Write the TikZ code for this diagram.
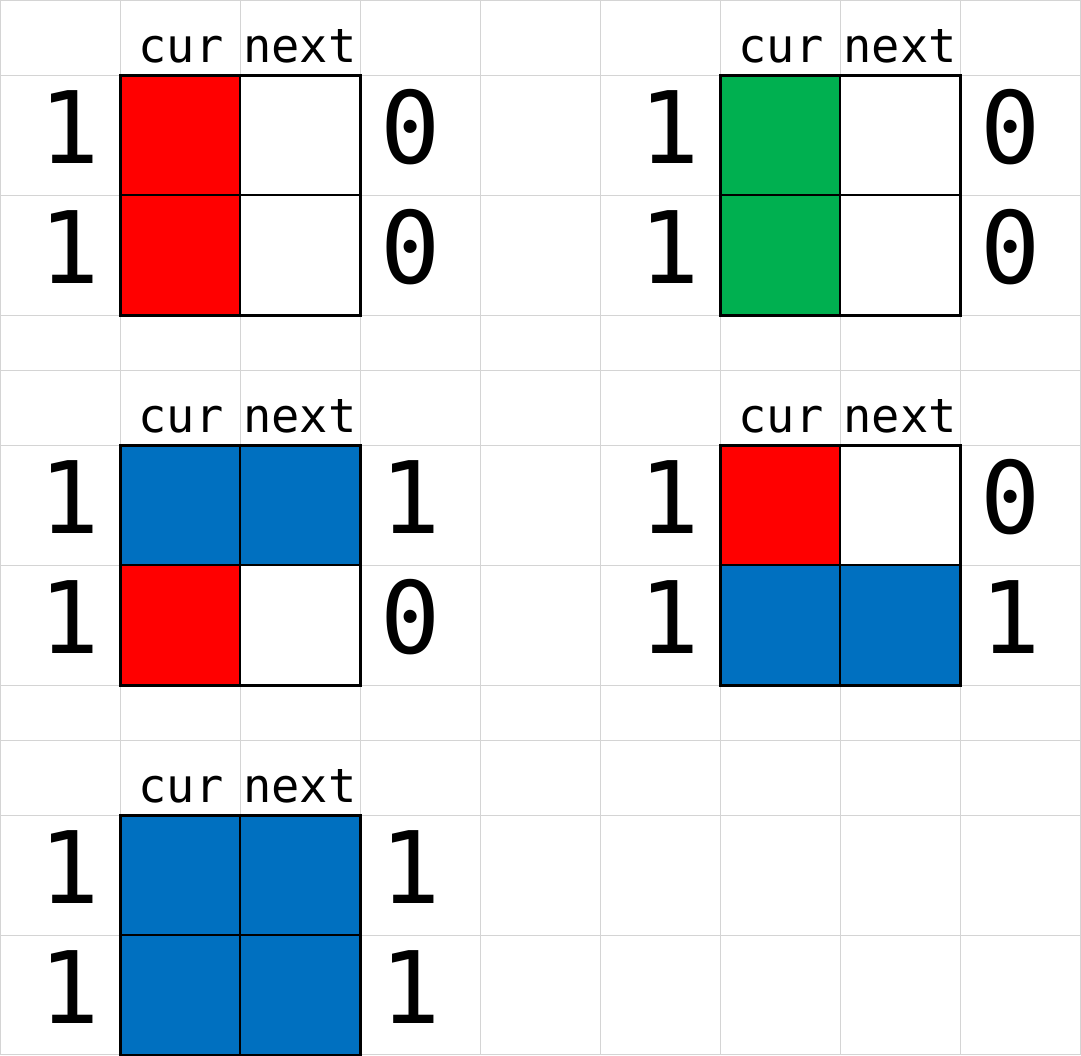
\documentclass[tikz,border=0pt]{standalone}
\usepackage{fontspec}
\setmonofont{DejaVu Sans Mono}
\usetikzlibrary{positioning}
\definecolor{cellred}{HTML}{FF0000}
\definecolor{cellgreen}{HTML}{00B050}
\definecolor{cellblue}{HTML}{0070C0}
\definecolor{gridgray}{HTML}{D4D4D4}

% one cur/next table: name, corner x, corner y, four cell colours, right labels
\newcommand{\statebox}[9]{%
	\begin{scope}[shift={(#2,#3)}]
		\fill[#4] (0,0) rectangle (120,120);
		\fill[#5] (120,0) rectangle (240,120);
		\fill[#6] (0,120) rectangle (120,240);
		\fill[#7] (120,120) rectangle (240,240);
		\draw[innerline] (120,0) -- (120,240);
		\draw[innerline] (0,120) -- (240,120);
		\draw[outerline] (0,0) rectangle (240,240);
		\node[headtext] (#1-cur) at (61,-13) {cur};
		\node[headtext] (#1-next) at (180,-13) {next};
		\node[bigdigit] (#1-l1) at (-50,88) {1};
		\node[bigdigit] (#1-l2) at (-50,208) {1};
		\node[bigdigit] (#1-r1) at (291,88) {#8};
		\node[bigdigit] (#1-r2) at (291,208) {#9};
	\end{scope}}

\begin{document}
\begin{tikzpicture}
		[x=1pt, y=-1pt,
		gridline/.style={draw=gridgray, line width=1pt},
		innerline/.style={draw=black, line width=1.5pt},
		outerline/.style={draw=black, line width=3pt},
		bigdigit/.style={anchor=base, inner sep=0pt, font=\ttfamily\fontsize{100}{110}\selectfont},
		headtext/.style={anchor=base, inner sep=0pt, font=\ttfamily\fontsize{47}{55}\selectfont}]
		\useasboundingbox (0,0) rectangle (1081,1055);
		\fill[white] (0,0) rectangle (1081,1055);
		\foreach \x in {0,120,...,1080}
			\draw[gridline] (\x+0.5,0) -- (\x+0.5,1055);
		\foreach \y in {0,75,195,315,370,445,565,685,740,815,935,1054}
			\draw[gridline] (0,\y+0.5) -- (1081,\y+0.5);

		\statebox{A}{120}{75}{cellred}{white}{cellred}{white}{0}{0}
		\statebox{B}{720}{75}{cellgreen}{white}{cellgreen}{white}{0}{0}
		\statebox{C}{120}{445}{cellblue}{cellblue}{cellred}{white}{1}{0}
		\statebox{D}{720}{445}{cellred}{white}{cellblue}{cellblue}{0}{1}
		\statebox{E}{120}{815}{cellblue}{cellblue}{cellblue}{cellblue}{1}{1}
	\end{tikzpicture}
\end{document}
